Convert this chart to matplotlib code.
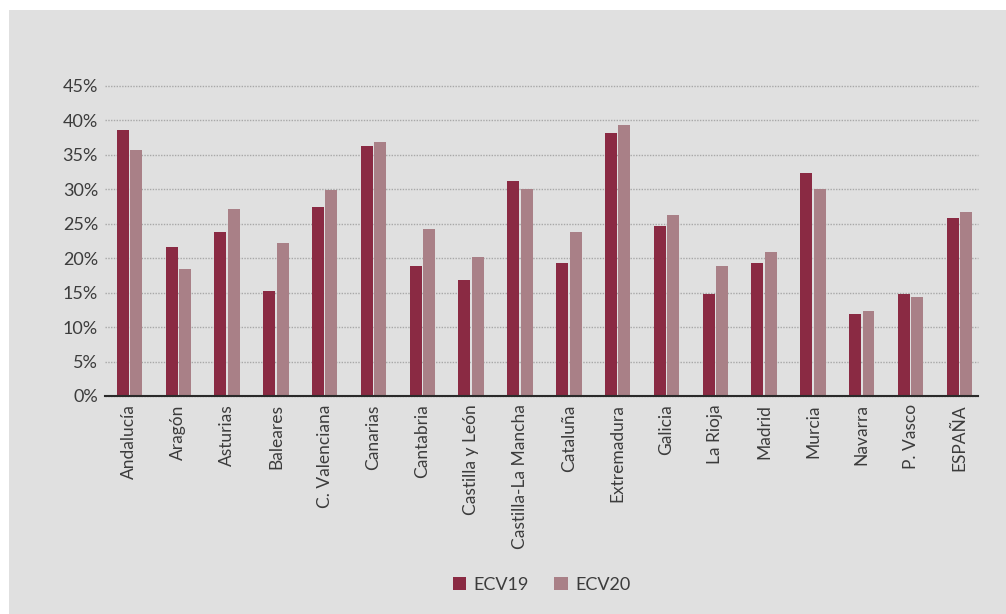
import matplotlib

matplotlib.use("Agg")
import numpy as np
from matplotlib import pyplot as plt
from matplotlib.patches import Rectangle
from matplotlib.ticker import FuncFormatter

regions = [
    "Andalucía", "Aragón", "Asturias", "Baleares", "C. Valenciana", "Canarias",
    "Cantabria", "Castilla y León", "Castilla-La Mancha", "Cataluña", "Extremadura",
    "Galicia", "La Rioja", "Madrid", "Murcia", "Navarra", "P. Vasco", "ESPAÑA",
]
ecv19 = [38.6, 21.7, 23.8, 15.2, 27.4, 36.3, 18.9, 16.8, 31.2, 19.3, 38.2,
         24.7, 14.8, 19.3, 32.3, 11.9, 14.8, 25.8]
ecv20 = [35.7, 18.4, 27.1, 22.2, 29.9, 36.9, 24.2, 20.2, 30.0, 23.8, 39.3,
         26.3, 18.9, 20.9, 30.0, 12.3, 14.4, 26.7]
yticks = [0, 5, 10, 15, 20, 25, 30, 35, 40, 45]

color19 = "#8a2a43"
color20 = "#a98087"
bg = "#e0e0e0"
text_color = "#3c3c3c"

plt.rcParams["font.family"] = ["Lato", "DejaVu Sans"]

fig = plt.figure(figsize=(10.06, 6.14), dpi=100, facecolor="white")
fig.patches.append(Rectangle((9 / 1006, 0), 1 - 9 / 1006, 1 - 10 / 614,
                             transform=fig.transFigure, facecolor=bg,
                             edgecolor="none", zorder=-10))

ax = fig.add_axes([105 / 1006, 1 - 396 / 614, (978 - 105) / 1006, (396 - 86) / 614])
ax.set_facecolor("none")

x = np.arange(len(regions))
width = 0.245
ax.bar(x - width / 2 - 0.015, ecv19, width, color=color19, label="ECV19", zorder=3)
ax.bar(x + width / 2 + 0.015, ecv20, width, color=color20, label="ECV20", zorder=3)

ax.set_xlim(-0.5, len(regions) - 0.62)
ax.set_ylim(0, 45)
ax.set_yticks(yticks)
ax.yaxis.set_major_formatter(FuncFormatter(lambda v, _: f"{v:.0f}%"))
ax.grid(axis="y", color="#a8a8a8", linestyle=(0, (1, 1)), linewidth=1.0, zorder=1)
for gl in ax.get_ygridlines():
    gl.set_clip_on(False)

ax.set_xticks(x)
ax.set_xticklabels(regions, rotation=90, fontsize=12.5, color=text_color)
ax.tick_params(axis="y", length=0, pad=5, labelsize=13, labelcolor=text_color)
ax.tick_params(axis="x", length=0, pad=6)

for side in ["top", "right", "left"]:
    ax.spines[side].set_visible(False)
ax.spines["bottom"].set_color("#2a2a2a")
ax.spines["bottom"].set_linewidth(1.5)
ax.spines["bottom"].set_zorder(4)

ax.legend(loc="center", bbox_to_anchor=(0.5, -(585 - 396) / (396 - 86)),
          ncol=2, frameon=False, fontsize=13, handlelength=0.75, handleheight=0.75,
          handletextpad=0.4, columnspacing=1.4, labelcolor=text_color)

fig.savefig("out.png", dpi=100, facecolor=fig.get_facecolor())
